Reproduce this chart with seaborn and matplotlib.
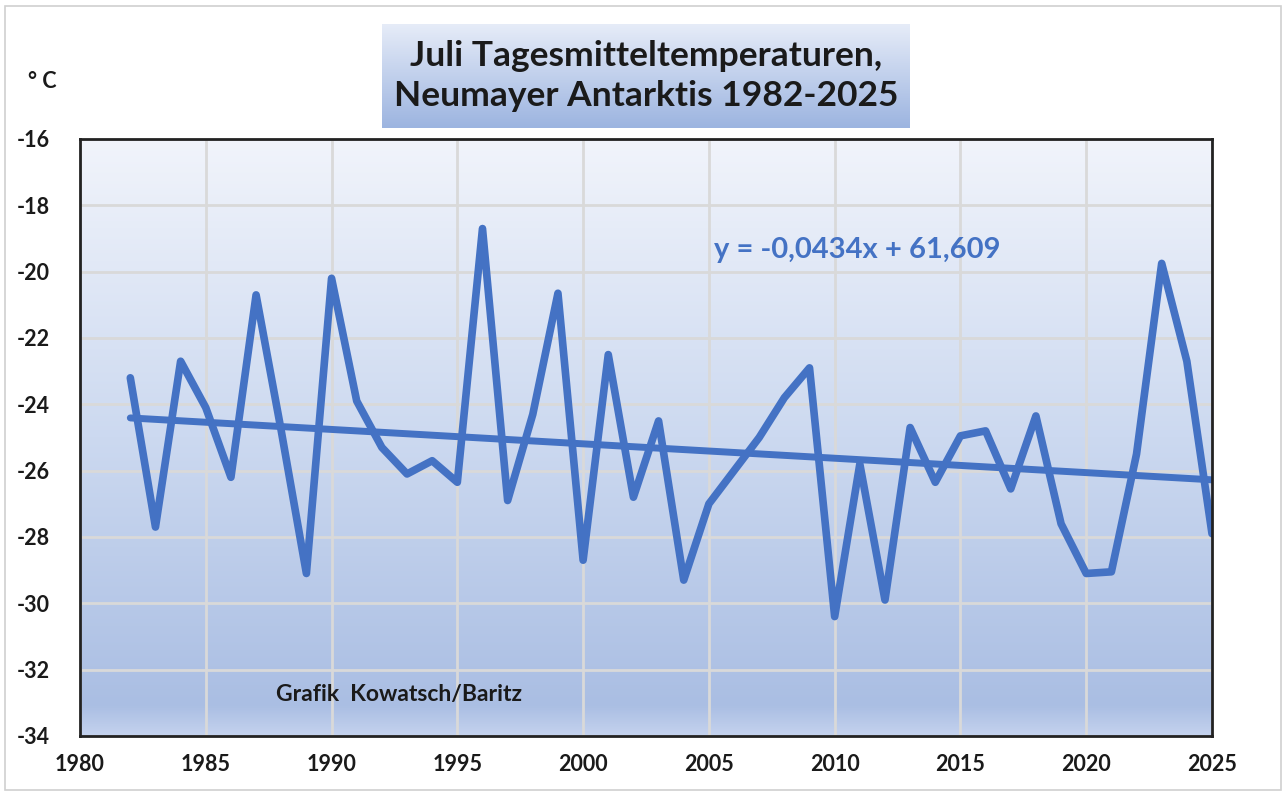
import matplotlib
matplotlib.use('Agg')
import matplotlib.pyplot as plt
import numpy as np
import pandas as pd
import seaborn as sns
from matplotlib.patches import Rectangle

# July daily mean temperatures, Neumayer station
years = list(range(1982, 2026))
temps = [-23.2, -27.7, -22.7, -24.1, -26.2, -20.7, -24.8, -29.1, -20.2, -23.9,
         -25.3, -26.1, -25.7, -26.35, -18.7, -26.9, -24.3, -20.65, -28.7, -22.5,
         -26.8, -24.5, -29.3, -27.0, -26.0, -25.0, -23.8, -22.9, -30.4, -25.8,
         -29.9, -24.7, -26.35, -24.95, -24.8, -26.55, -24.35, -27.6, -29.1, -29.05,
         -25.5, -19.75, -22.7, -27.9]
trend_slope = -0.0434
trend_intercept = 61.609
trend_label = 'y = -0,0434x + 61,609'
x_ticks = list(range(1980, 2030, 5))
y_ticks = list(range(-34, -14, 2))

line_color = '#4472C4'
text_color = '#1a1a1a'
font = ['Lato', 'DejaVu Sans']

data = pd.DataFrame({'Jahr': years, 'Temperatur': temps})
data['Trend'] = trend_slope * data['Jahr'] + trend_intercept

sns.set_style('white')
plt.rcParams['font.family'] = font

W, H = 1288, 796
fig = plt.figure(figsize=(W / 100, H / 100), dpi=100)

# outer chart border
fig.patches.append(Rectangle((5 / W, 6 / H), 1276 / W, 784 / H, transform=fig.transFigure,
                             fill=False, edgecolor='#d0d0d0', linewidth=1.2))


def px_axes(x0, y0, x1, y1):
    return fig.add_axes([x0 / W, 1 - y1 / H, (x1 - x0) / W, (y1 - y0) / H])


def gradient(stops, n=256):
    pos = [s[0] for s in stops]
    cols = np.array([matplotlib.colors.to_rgb(s[1]) for s in stops])
    t = np.linspace(0, 1, n)
    img = np.stack([np.interp(t, pos, cols[:, c]) for c in range(3)], axis=1)
    return img[:, None, :]


ax = px_axes(80, 139, 1212, 736)
bg = gradient([(0, '#F1F4FB'), (0.5, '#CCD9F0'), (0.95, '#AABEE3'), (1.0, '#C4D2EE')])
ax.imshow(bg, extent=(0, 1, 0, 1), transform=ax.transAxes, aspect='auto', zorder=0,
          origin='upper')

sns.lineplot(data=data, x='Jahr', y='Temperatur', ax=ax, color=line_color,
             linewidth=5.5, solid_joinstyle='round', solid_capstyle='round', zorder=3)
sns.lineplot(data=data, x='Jahr', y='Trend', ax=ax, color=line_color,
             linewidth=5, solid_capstyle='round', zorder=3)

ax.set_xlim(1980, 2025)
ax.set_ylim(-34, -16)
ax.set_xticks(x_ticks)
ax.set_yticks(y_ticks)
ax.set_xticklabels([str(x) for x in x_ticks], fontsize=15.5, color=text_color, fontweight='bold')
ax.set_yticklabels([str(y) for y in y_ticks], fontsize=15.5, color=text_color, fontweight='bold')
ax.tick_params(axis='both', length=0)
ax.tick_params(axis='x', pad=13)
ax.tick_params(axis='y', pad=22)
ax.grid(True, color='#d9d9d9', linewidth=2, zorder=1)
ax.set_axisbelow(True)
ax.set_xlabel('')
ax.set_ylabel('')
for side in ax.spines.values():
    side.set_visible(True)
    side.set_color('#222222')
    side.set_linewidth(2)
    side.set_zorder(5)

ax.text(0.56, 0.814, trend_label, transform=ax.transAxes, fontsize=21,
        fontweight='bold', color=line_color, va='center', ha='left')
ax.text(0.173, 0.07, 'Grafik  Kowatsch/Baritz', transform=ax.transAxes, fontsize=16.5,
        fontweight='bold', color=text_color, va='center', ha='left')

fig.text(42 / W, 1 - 82 / H, '° C', fontsize=15.5, color=text_color, ha='center', va='center',
         fontweight='bold')

# title box with gradient fill
tax = px_axes(382, 24, 910, 128)
tax.imshow(gradient([(0, '#E6ECF8'), (1, '#9CB4E0')]), extent=(0, 1, 0, 1),
           aspect='auto', origin='upper')
tax.set_xlim(0, 1)
tax.set_ylim(0, 1)
tax.axis('off')
tax.text(0.5, 0.5, 'Juli Tagesmitteltemperaturen,\nNeumayer Antarktis 1982-2025',
         ha='center', va='center', fontsize=25.5, fontweight='bold', color=text_color,
         linespacing=1.3)

fig.savefig('out.png', dpi=100)
plt.close('all')
